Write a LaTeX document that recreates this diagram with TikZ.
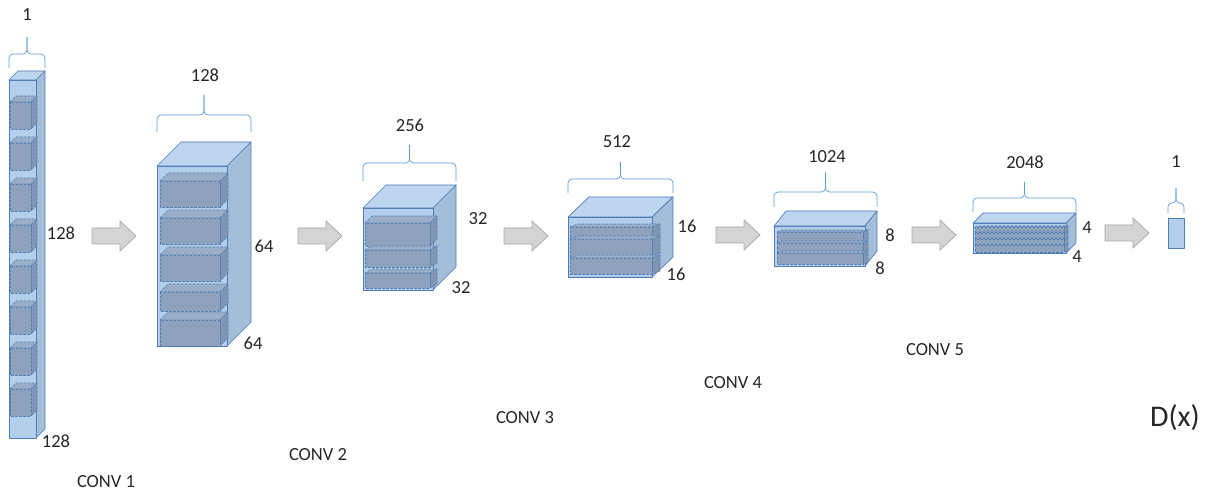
\documentclass[tikz,border=0pt]{standalone}
\usepackage{fontspec}
\setmainfont{Carlito}
\definecolor{frontc}{HTML}{B4CFEB}
\definecolor{topc}{HTML}{BDD5EE}
\definecolor{sidec}{HTML}{A4BED9}
\definecolor{edgec}{HTML}{4F7DB6}
\definecolor{blkfront}{HTML}{8EA2BD}
\definecolor{blktop}{HTML}{9AAEC8}
\definecolor{blkside}{HTML}{8196B3}
\definecolor{dashc}{HTML}{4F7DB6}
\definecolor{bracec}{HTML}{5B9BD5}
\definecolor{arrfill}{HTML}{D4D4D4}
\definecolor{arrdraw}{HTML}{A6A6A6}
\tikzset{
  boxface/.style={draw=edgec, line width=0.7pt, line join=round},
  blkface/.style={draw=dashc, line width=0.6pt, dash pattern=on 2.5pt off 1.5pt, line join=round},
  bracestyle/.style={draw=bracec, line width=0.7pt, rounded corners=4pt},
  arrstyle/.style={fill=arrfill, draw=arrdraw, line width=0.7pt, line join=miter},
  lbl/.style={inner sep=0pt, font=\fontsize{18.5}{21}\selectfont, text=black!85},
}
% cuboid: x1 y1 (front top-left), x2 y2 (front bottom-right), dx dy (depth)
\newcommand\cnncube[6]{%
  \filldraw[boxface, fill=topc] (#1,#2) -- (#1+#5,#2-#6) -- (#3+#5,#2-#6) -- (#3,#2) -- cycle;
  \filldraw[boxface, fill=sidec] (#3,#2) -- (#3+#5,#2-#6) -- (#3+#5,#4-#6) -- (#3,#4) -- cycle;
  \filldraw[boxface, fill=frontc] (#1,#2) rectangle (#3,#4);
}
\newcommand\cnnblock[6]{%
  \filldraw[blkface, fill=blktop] (#1,#2) -- (#1+#5,#2-#6) -- (#3+#5,#2-#6) -- (#3,#2) -- cycle;
  \filldraw[blkface, fill=blkside] (#3,#2) -- (#3+#5,#2-#6) -- (#3+#5,#4-#6) -- (#3,#4) -- cycle;
  \filldraw[blkface, fill=blkfront] (#1,#2) rectangle (#3,#4);
}
% brace: x1 x2 ybottom yhoriz ytop
\newcommand\cnnbrace[5]{%
  \draw[bracestyle] (#1,#3) -- (#1,#4) -- ({(#1+#2)/2},#4) -- ({(#1+#2)/2},#5);
  \draw[bracestyle] (#2,#3) -- (#2,#4) -- ({(#1+#2)/2},#4) -- ({(#1+#2)/2},#5);
}
% block arrow: left x, centre y
\newcommand\cnnarrow[2]{%
  \filldraw[arrstyle] (#1,#2-8) -- (#1+28,#2-8) -- (#1+28,#2-15) -- (#1+44,#2) -- (#1+28,#2+15) -- (#1+28,#2+8) -- (#1,#2+8) -- cycle;
}
\begin{document}
\begin{tikzpicture}[x=1pt,y=-1pt]
\useasboundingbox (0,0) rectangle (1210,494);

% ---------- box 1 ----------
\cnncube{9}{80}{36}{438}{9}{9}
\foreach \i in {0,...,7}{
  \pgfmathsetmacro\yt{102+41*\i}
  \pgfmathsetmacro\yb{\yt+27}
  \cnnblock{10}{\yt}{31}{\yb}{6}{6}
}
\cnnbrace{9}{45}{68}{54}{37}
\node[lbl] (l1a) at (27,15) {1};
\node[lbl] (l1b) at (61,233) {128};
\node[lbl] (l1c) at (56,441) {128};
\node[lbl] (c1) at (106,482) {CONV 1};

% ---------- box 2 ----------
\cnncube{157}{166}{227}{346}{24}{24}
\cnnblock{160}{181}{220}{207}{8}{8}
\cnnblock{160}{218}{220}{244}{8}{8}
\cnnblock{160}{255}{220}{281}{8}{8}
\cnnblock{160}{292}{220}{311}{8}{8}
\cnnblock{160}{320}{220}{346}{8}{8}
\cnnbrace{157}{251}{132}{115}{95}
\node[lbl] (l2a) at (205,75) {128};
\node[lbl] (l2b) at (264,246) {64};
\node[lbl] (l2c) at (253,343) {64};
\node[lbl] (c2) at (318,455) {CONV 2};

% ---------- box 3 ----------
\cnncube{363}{208}{433}{290}{23}{23}
\cnnblock{365}{223}{430}{246}{7}{7}
\cnnblock{365}{250}{430}{267}{7}{4}
\cnnblock{365}{273}{430}{288}{7}{4}
\cnnbrace{363}{456}{181}{163}{145}
\node[lbl] (l3a) at (410,125) {256};
\node[lbl] (l3b) at (478,219) {32};
\node[lbl] (l3c) at (461,288) {32};
\node[lbl] (c3) at (525,418) {CONV 3};

% ---------- box 4 ----------
\cnncube{568}{217}{652}{277}{21}{20}
\cnnblock{570}{227}{652}{241}{8}{3}
\cnnblock{570}{239}{652}{256}{8}{3}
\cnnblock{570}{258}{652}{274}{8}{3}
\cnnbrace{568}{673}{193}{179}{162}
\node[lbl] (l4a) at (617,142) {512};
\node[lbl] (l4b) at (687,226) {16};
\node[lbl] (l4c) at (676,274) {16};
\node[lbl] (c4) at (733,383) {CONV 4};

% ---------- box 5 ----------
\cnncube{774}{226}{865}{266}{12}{15}
\cnnblock{777}{232}{863}{242}{5}{2}
\cnnblock{777}{243}{863}{253}{5}{2}
\cnnblock{777}{253}{863}{264}{5}{2}
\cnnbrace{774}{877}{207}{192}{173}
\node[lbl] (l5a) at (827,157) {1024};
\node[lbl] (l5b) at (890,235) {8};
\node[lbl] (l5c) at (880,268) {8};
\node[lbl] (c5) at (935,350) {CONV 5};

% ---------- box 6 ----------
\cnncube{973}{223}{1066}{253}{10}{10}
\cnnblock{975}{227}{1064}{234}{4}{1}
\cnnblock{975}{233}{1064}{240}{4}{1}
\cnnblock{975}{239}{1064}{246}{4}{1}
\cnnblock{975}{245}{1064}{252}{4}{1}
\cnnbrace{973}{1076}{212}{198}{182}
\node[lbl] (l6a) at (1025,162) {2048};
\node[lbl] (l6b) at (1087,228) {4};
\node[lbl] (l6c) at (1077,257) {4};

% ---------- output ----------
\filldraw[boxface, fill=frontc] (1168,218) rectangle (1184,248);
\cnnbrace{1168}{1184}{213}{203}{188}
\node[lbl] (l7a) at (1176,162) {1};
\node[inner sep=0pt, font=\fontsize{30}{33}\selectfont, text=black!85] (dx) at (1175,418) {D(x)};

% ---------- arrows ----------
\cnnarrow{92}{236}
\cnnarrow{298}{236}
\cnnarrow{504}{236}
\cnnarrow{716}{235}
\cnnarrow{912}{235}
\cnnarrow{1105}{233}
\end{tikzpicture}
\end{document}
